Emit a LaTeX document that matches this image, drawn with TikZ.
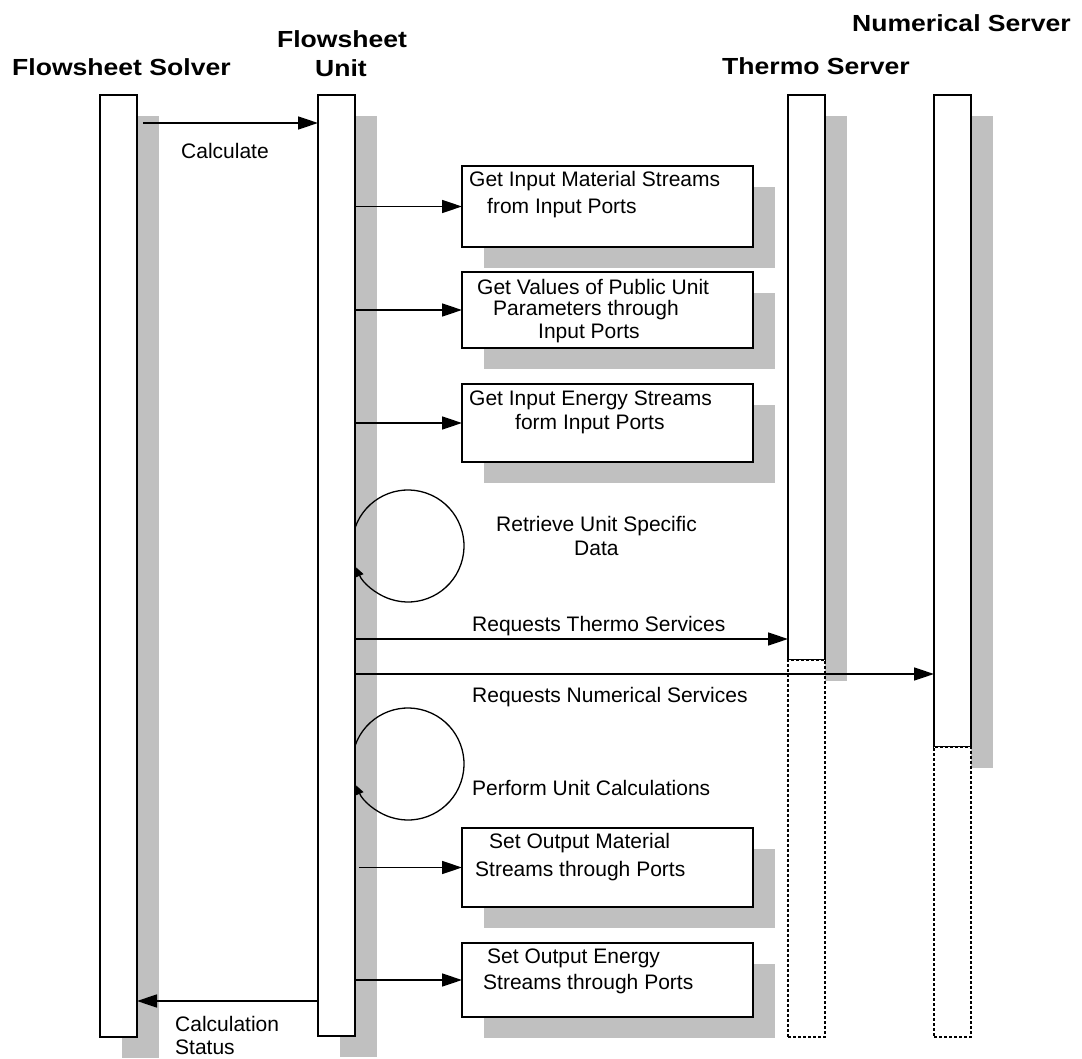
\documentclass[tikz,border=0pt]{standalone}
\usepackage{fontspec}
\setmainfont{Liberation Sans}
\newfontfamily\titlefont{Liberation Sans}[FakeStretch=1.14]
\usetikzlibrary{arrows.meta,shadows,calc}
\definecolor{shadowgray}{HTML}{C0C0C0}

\begin{document}
\begin{tikzpicture}[x=1pt,y=-1pt,
  grayshadow/.style={drop shadow={shadow xshift=22pt, shadow yshift=-21pt,
      fill=shadowgray, opacity=1}},
  lifeline/.style={draw, fill=white, line width=1.5pt, minimum width=37pt,
      inner sep=0pt, outer sep=0pt, grayshadow},
  endline/.style={draw, fill=white, line width=1.2pt, dash pattern=on 3pt off 2pt,
      minimum width=37pt, inner sep=0pt, outer sep=0pt},
  actbox/.style={draw, fill=white, line width=1.6pt, minimum width=291pt,
      inner sep=0pt, outer sep=0pt, grayshadow},
  msg/.style={line width=1.5pt, -{Triangle[length=20pt,width=13pt]}},
  selfmsg/.style={line width=1.3pt, -{Triangle[length=9pt,width=8pt]}},
  txt/.style={anchor=base west, inner sep=0pt, font=\fontsize{21}{25}\selectfont},
  title/.style={inner sep=0pt, font=\titlefont\bfseries\fontsize{23.3}{28}\selectfont}
]
\useasboundingbox (0,0) rectangle (1082,1059);

% column headings
\node[title, anchor=base west] (tSolver) at (12,76) {Flowsheet Solver};
\node[title, anchor=base] (tUnitA) at (342,48) {Flowsheet};
\node[title, anchor=base] (tUnitB) at (341,77) {Unit};
\node[title, anchor=base west] (tThermo) at (722,75) {Thermo Server};
\node[title, anchor=base west] (tNumer) at (852,32) {Numerical Server};

% lifelines
\node[lifeline, minimum height=942pt] (solver) at (118.5,566) {};
\node[lifeline, minimum height=941pt] (unit) at (336.5,565.5) {};
\node[lifeline, minimum height=565pt] (thermo) at (806.5,377.5) {};
\node[lifeline, minimum height=652pt] (numer) at (952.5,421) {};
\node[endline, minimum height=377pt] (thermoEnd) at (806.5,848.5) {};
\node[endline, minimum height=290pt] (numerEnd) at (952.5,892) {};

% activity boxes
\node[actbox, minimum height=81pt] (box1) at (607.5,206.5) {};
\node[actbox, minimum height=76pt] (box2) at (607.5,310) {};
\node[actbox, minimum height=78pt] (box3) at (607.5,423) {};
\node[actbox, minimum height=79pt] (box4) at (607.5,867.5) {};
\node[actbox, minimum height=74pt] (box5) at (607.5,980) {};

% box texts
\node[txt] (b1a) at (469,186.5) {Get Input Material Streams};
\node[txt] (b1b) at (487,214) {from Input Ports};
\node[txt] (b2a) at (477,295) {Get Values of Public Unit};
\node[txt] (b2b) at (493,315.5) {Parameters through};
\node[txt] (b2c) at (538,339) {Input Ports};
\node[txt] (b3a) at (469,405.5) {Get Input Energy Streams};
\node[txt] (b3b) at (515,429.3) {form Input Ports};
\node[txt] (b4a) at (489,848.3) {Set Output Material};
\node[txt] (b4b) at (475,876) {Streams through Ports};
\node[txt] (b5a) at (487,963.3) {Set Output Energy};
\node[txt] (b5b) at (483,989.3) {Streams through Ports};

% messages
\coordinate (calcStart) at (143,123);
\draw[msg] (calcStart) -- (calcStart -| unit.west);
\node[txt] (lCalc) at (181,158.3) {Calculate};

\draw[msg] (unit.east |- box1.west) -- (box1.west);
\draw[msg] (unit.east |- box2.west) -- (box2.west);
\draw[msg] (unit.east |- box3.west) -- (box3.west);

% self call: retrieve data
\coordinate (loopA) at (408,546);
\draw[selfmsg] ($(loopA)+(161:56pt)$) arc[start angle=161, end angle=-157.5, radius=56pt];
\node[txt] (lRetA) at (496,531) {Retrieve Unit Specific};
\node[txt] (lRetB) at (574,555) {Data};

\coordinate (thermoY) at (0,639);
\draw[msg] (unit.east |- thermoY) -- (thermo.west |- thermoY);
\node[txt] (lThermo) at (472,631) {Requests Thermo Services};

\coordinate (numerY) at (0,674);
\draw[msg] (unit.east |- numerY) -- (numer.west |- numerY);
\node[txt] (lNumer) at (472,702.7) {Requests Numerical Services};

% self call: calculations
\coordinate (loopB) at (408,764);
\draw[selfmsg] ($(loopB)+(161:56pt)$) arc[start angle=161, end angle=-157.5, radius=56pt];
\node[txt] (lPerf) at (472,795) {Perform Unit Calculations};

\draw[msg] ($(unit.east |- box4.west)+(4,0)$) -- (box4.west);
\draw[msg] (unit.east |- box5.west) -- (box5.west);

% result back to the solver
\coordinate (retY) at (0,1001);
\draw[msg] (unit.west |- retY) -- (solver.east |- retY);
\node[txt] (lStatA) at (175,1031.7) {Calculation};
\node[txt] (lStatB) at (175,1054) {Status};
\end{tikzpicture}
\end{document}
